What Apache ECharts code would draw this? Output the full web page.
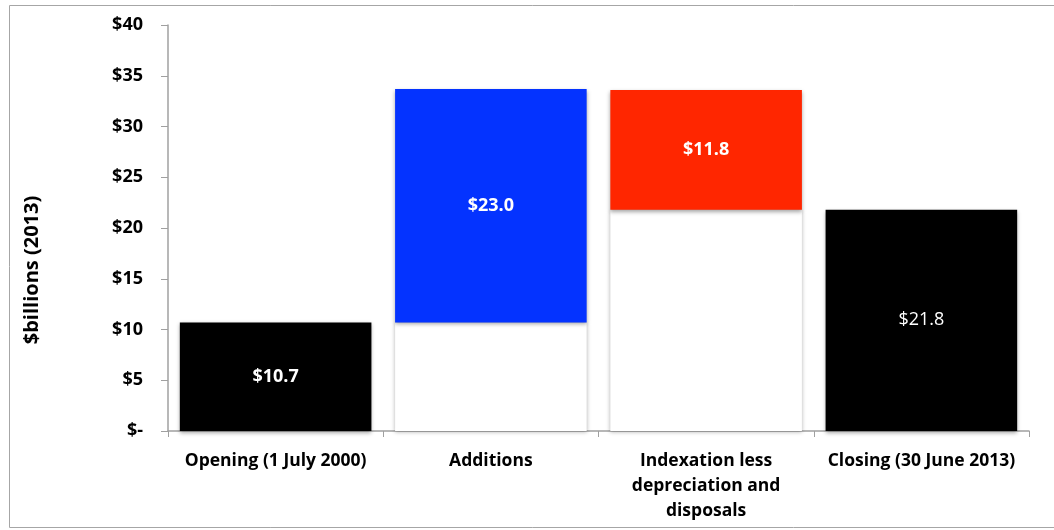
<!DOCTYPE html>
<html><head><meta charset="utf-8">
<script src="https://cdn.jsdelivr.net/npm/echarts@6/dist/echarts.min.js"></script>
<style>html,body{margin:0;padding:0;background:#fff}#c{width:1054px;height:530px}</style>
</head><body><div id="c"></div>
<script>
const categories = ['Opening (1 July 2000)', 'Additions', 'Indexation less\ndepreciation and\ndisposals', 'Closing (30 June 2013)'];
const baseValues = [0, 10.7, 21.8, 0];
const barValues = [10.7, 23.0, 11.8, 21.8];
const barLabels = ['$10.7', '$23.0', '$11.8', '$21.8'];
const barColors = ['#000000', '#0433ff', '#ff2600', '#000000'];
const labelBold = [true, true, true, false];
const yTicks = [0, 5, 10, 15, 20, 25, 30, 35, 40];
const yTitle = '$billions (2013)';

const FONT = '"Open Sans", sans-serif';
const chart = echarts.init(document.getElementById('c'));
chart.setOption({
  animation: false,
  graphic: [
    {type: 'rect', shape: {x: 9.5, y: 5.5, width: 1060, height: 522}, style: {fill: 'none', stroke: '#a6a6a6', lineWidth: 1}, z: -1},
    {type: 'text', x: 32, y: 270, rotation: Math.PI / 2, style: {text: yTitle, fill: '#000', font: 'bold 20px "Open Sans", sans-serif', textAlign: 'center', textVerticalAlign: 'middle'}}
  ],
  grid: {left: 168, right: 25, top: 25, bottom: 99},
  xAxis: {
    type: 'category', data: categories,
    axisLine: {lineStyle: {color: '#a0a0a0', width: 1.5}},
    axisTick: {show: true, length: 6, lineStyle: {color: '#a0a0a0'}},
    axisLabel: {color: '#000', fontFamily: FONT, fontWeight: 'bold', fontSize: 17.5, lineHeight: 25, margin: 18, interval: 0}
  },
  yAxis: {
    type: 'value', min: 0, max: 40, interval: 5,
    axisLine: {show: true, lineStyle: {color: '#a0a0a0', width: 1.5}},
    axisTick: {show: true, length: 7, lineStyle: {color: '#a0a0a0'}},
    splitLine: {show: false},
    axisLabel: {color: '#000', fontFamily: FONT, fontWeight: 'bold', fontSize: 18, margin: 25,
      formatter: v => yTicks.includes(v) ? (v === 0 ? '$-' : '$' + v) : ''}
  },
  series: [
    {
      type: 'bar', stack: 'w', data: baseValues, barCategoryGap: '11%',
      itemStyle: {color: '#ffffff', shadowColor: 'rgba(0,0,0,0.3)', shadowBlur: 4, shadowOffsetX: 0, shadowOffsetY: 1},
      silent: true
    },
    {
      type: 'bar', stack: 'w', barCategoryGap: '11%',
      data: barValues.map((v, i) => ({
        value: v,
        itemStyle: {color: barColors[i], shadowColor: 'rgba(0,0,0,0.35)', shadowBlur: 4, shadowOffsetY: 2},
        label: {show: true, position: 'inside', formatter: barLabels[i], color: '#fff', fontFamily: FONT, fontSize: 18, fontWeight: labelBold[i] ? 'bold' : 'normal'}
      }))
    }
  ]
});
</script></body></html>
